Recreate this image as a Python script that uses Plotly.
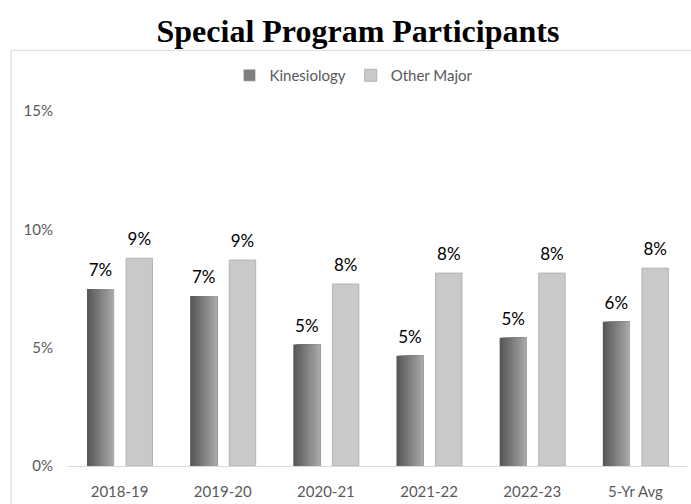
import plotly.graph_objects as go

categories = ["2018-19", "2019-20", "2020-21", "2021-22", "2022-23", "5-Yr Avg"]
kinesiology = [0.0748, 0.0718, 0.0513, 0.0466, 0.0542, 0.0609]
other_major = [0.0878, 0.0870, 0.0769, 0.0815, 0.0815, 0.0836]
y_ticks = [0, 0.05, 0.10, 0.15]
y_tick_labels = ["0%", "5%", "10%", "15%"]

FONT = "Lato"
GRAY_TXT = "#595959"
LABEL_PAD = 0.0025  # transparent spacer that lifts data labels off the bars

fig = go.Figure()

# Kinesiology bars with a stepped horizontal gradient (dark -> light)
kin_offset = -0.316
kin_width = 0.262
oth_offset = 0.063
oth_width = 0.256
n_steps = 14
c0 = (0x58, 0x58, 0x58)
c1 = (0xa8, 0xa8, 0xa8)
for i in range(n_steps):
    t = i / (n_steps - 1)
    col = "rgb(%d,%d,%d)" % tuple(int(a + (b - a) * t) for a, b in zip(c0, c1))
    frac = i / n_steps
    fig.add_trace(go.Bar(
        x=categories, y=kinesiology,
        offset=kin_offset + kin_width * frac,
        width=kin_width * (1 - frac),
        marker=dict(color=col, line=dict(width=0)),
        showlegend=False,
        hovertemplate="Kinesiology %{x}: %{y:.1%}<extra></extra>",
    ))

fig.add_trace(go.Bar(
    x=categories, y=other_major,
    offset=oth_offset, width=oth_width,
    marker=dict(color="#c9c9c9", line=dict(color="#b3b3b3", width=1)),
    showlegend=False,
    hovertemplate="Other Major %{x}: %{y:.1%}<extra></extra>",
))

# data labels (carried by transparent spacers sitting on top of each bar)
for vals, off, wid in [(kinesiology, kin_offset, kin_width),
                       (other_major, oth_offset, oth_width)]:
    fig.add_trace(go.Bar(
        x=categories, y=[LABEL_PAD] * len(vals), base=vals,
        offset=off, width=wid,
        marker=dict(color="rgba(0,0,0,0)", line=dict(width=0)),
        text=["%d%%" % round(v * 100) for v in vals],
        textposition="outside",
        textfont=dict(family=FONT, size=17, color="#000000"),
        cliponaxis=False, showlegend=False, hoverinfo="skip",
    ))

# legend entries
fig.add_trace(go.Bar(x=[None], y=[None], name="Kinesiology",
                     marker=dict(color="#7f7f7f")))
fig.add_trace(go.Bar(x=[None], y=[None], name="Other Major",
                     marker=dict(color="#c9c9c9", line=dict(color="#b3b3b3", width=1))))

fig.update_layout(
    width=691, height=504,
    barmode="overlay",
    paper_bgcolor="white", plot_bgcolor="white",
    margin=dict(l=68, r=4, t=111, b=36),
    title=dict(text="<b>Special Program Participants</b>",
               font=dict(family="Liberation Serif", size=32, color="#000000"),
               x=0.518, xref="container", xanchor="center",
               y=1 - 31 / 504, yref="container", yanchor="middle"),
    legend=dict(orientation="h", x=0.462, xanchor="center", y=1.10, yanchor="middle",
                font=dict(family=FONT, size=15, color=GRAY_TXT),
                traceorder="normal"),
    xaxis=dict(showgrid=False, showline=True, linecolor="#d9d9d9", linewidth=1,
               ticks="", tickfont=dict(family=FONT, size=15, color=GRAY_TXT),
               ticklabelstandoff=12, range=[-0.5, 5.5]),
    yaxis=dict(range=[0, 0.15], tickvals=y_ticks, ticktext=y_tick_labels,
               showgrid=False, zeroline=False, showline=False, ticks="",
               tickfont=dict(family=FONT, size=15, color=GRAY_TXT),
               ticklabelstandoff=14),
    shapes=[dict(type="rect", xref="paper", yref="paper",
                 x0=(11 - 68) / 619, x1=(700 - 68) / 619,
                 y0=(468 - 520) / 357, y1=(468 - 50) / 357,
                 line=dict(color="#d9d9d9", width=1), fillcolor="rgba(0,0,0,0)",
                 layer="below")],
)

fig.write_html("out.html", config={"displayModeBar": False},
               post_script="document.body.style.margin='0';")
